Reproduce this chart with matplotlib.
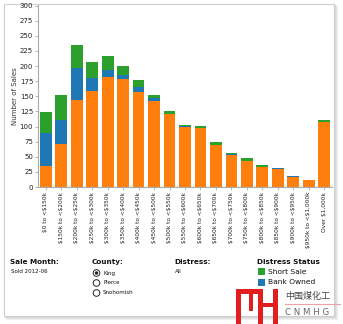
import matplotlib
matplotlib.use("Agg")
import matplotlib.pyplot as plt
from matplotlib.patches import Rectangle, Circle
import numpy as np

plt.rcParams['text.parse_math'] = False
plt.rcParams['font.family'] = ['DejaVu Sans', 'Noto Sans CJK SC']

categories = ["$0 to <$150k", "$150k to <$200k", "$200k to <$250k", "$250k to <$300k",
              "$300k to <$350k", "$350k to <$400k", "$400k to <$450k", "$450k to <$500k",
              "$500k to <$550k", "$550k to <$600k", "$600k to <$650k", "$650k to <$700k",
              "$700k to <$750k", "$750k to <$800k", "$800k to <$850k", "$850k to <$900k",
              "$900k to <$950k", "$950k to <$1,000k", "Over $1,000k"]
regular = [35, 71, 144, 159, 182, 179, 157, 142, 121, 99, 98, 70, 53, 43, 33, 30, 17, 12, 108]
bank_owned = [54, 40, 53, 21, 12, 6, 9, 5, 0, 2, 0, 0, 2, 0, 0, 1, 1, 0, 0]
short_sale = [35, 41, 38, 27, 23, 15, 11, 5, 5, 2, 3, 5, 1, 5, 3, 0, 0, 0, 3]
y_ticks = list(range(0, 301, 25))
counties = ["King", "Pierce", "Snohomish"]

W, H = 343, 324
fig = plt.figure(figsize=(W / 100, H / 100), dpi=100)
fig.patch.set_facecolor('white')

# frame / overlay
ov = fig.add_axes([0, 0, 1, 1], zorder=0)
ov.set_xlim(0, W)
ov.set_ylim(H, 0)
ov.axis('off')
for off, c in [(3, '#f2f2f2'), (2, '#e6e6e6'), (1, '#d9d9d9')]:
    ov.add_patch(Rectangle((4 + off, 4 + off), 330, 312, fill=False, ec=c, lw=1.0))
ov.add_patch(Rectangle((4, 4), 330, 312, fc='white', ec='#cfcfcf', lw=0.8))

ax = fig.add_axes([38 / W, 1 - 187 / H, 294 / W, 182 / H], zorder=2)
ax.patch.set_alpha(0)
x = np.arange(len(categories))
reg = np.array(regular)
bo = np.array(bank_owned)
ss = np.array(short_sale)
bw = 0.76
ax.bar(x, reg, width=bw, color='#ff7f0e', zorder=2)
ax.bar(x, bo, width=bw, bottom=reg, color='#1f77b4', zorder=2)
ax.bar(x, ss, width=bw, bottom=reg + bo, color='#2ca02c', zorder=2)
ax.set_xlim(-0.5, len(categories) - 0.5)
ax.set_ylim(0, 301)
ax.set_yticks(y_ticks)
ax.set_yticklabels([str(v) for v in y_ticks], fontsize=5)
ax.set_xticks(x)
ax.set_xticklabels(categories, rotation=90, fontsize=4.2, color='#222222')
ax.tick_params(axis='both', length=2, width=0.5, color='#999999', pad=1.5)
ax.tick_params(axis='y', labelcolor='#222222')
for s in ['top', 'right']:
    ax.spines[s].set_visible(False)
for s in ['left', 'bottom']:
    ax.spines[s].set_color('#aaaaaa')
    ax.spines[s].set_linewidth(0.8)
ax.set_ylabel("Number of Sales", fontsize=5, color='#333333', labelpad=1)

# bottom controls
tk = dict(fontsize=5.2, fontweight='bold', color='#111111', va='center', ha='left')
sk = dict(fontsize=4.0, color='#111111', va='center', ha='left')
ov.text(10, 262, "Sale Month:", **tk)
ov.text(11, 271.5, "Sold 2012-06", **sk)
ov.text(92, 262, "County:", **tk)
for i, c in enumerate(counties):
    yy = 273 + i * 10
    ov.add_patch(Circle((96.5, yy), 3.3, fill=False, ec='#222222', lw=0.7))
    if i == 0:
        ov.add_patch(Circle((96.5, yy), 1.7, fc='#222222', ec='none'))
    ov.text(103, yy, c, **sk)
ov.text(174, 262, "Distress:", **tk)
ov.text(175, 271.5, "All", **sk)
ov.text(257, 262, "Distress Status", **tk)
ov.add_patch(Rectangle((258, 268), 6.5, 6.5, fc='#2ca02c', ec='none'))
ov.text(268, 271.5, "Short Sale", fontsize=5.4, color='#111111', va='center', ha='left')
ov.add_patch(Rectangle((258, 279), 6.5, 6.5, fc='#1f77b4', ec='none'))
ov.text(268, 282.5, "Bank Owned", fontsize=5.4, color='#111111', va='center', ha='left')

# watermark logo
red = '#e02020'
wm = fig.add_axes([0, 0, 1, 1], zorder=5)
wm.set_xlim(0, W)
wm.set_ylim(H, 0)
wm.axis('off')
wm.patch.set_alpha(0)
for (x0, y0, w, h) in [(236, 289, 5, 35), (236, 289, 26, 5), (249, 289, 4, 22),
                       (258, 289, 5, 35), (258, 303, 20, 4), (273, 289, 5, 35)]:
    wm.add_patch(Rectangle((x0, y0), w, h, fc=red, ec='none'))
wm.text(285, 296, "中国煤化工", fontsize=6.5, color='#444444', va='center', ha='left',
        family=['Noto Sans CJK SC', 'DejaVu Sans'])
wm.plot([285, 340], [304, 304], color='#f0a0a0', lw=0.8)
wm.text(285, 312.5, "C N M H G", fontsize=6.2, color='#666666', va='center', ha='left')

fig.savefig("out.png", dpi=100, facecolor='white')
